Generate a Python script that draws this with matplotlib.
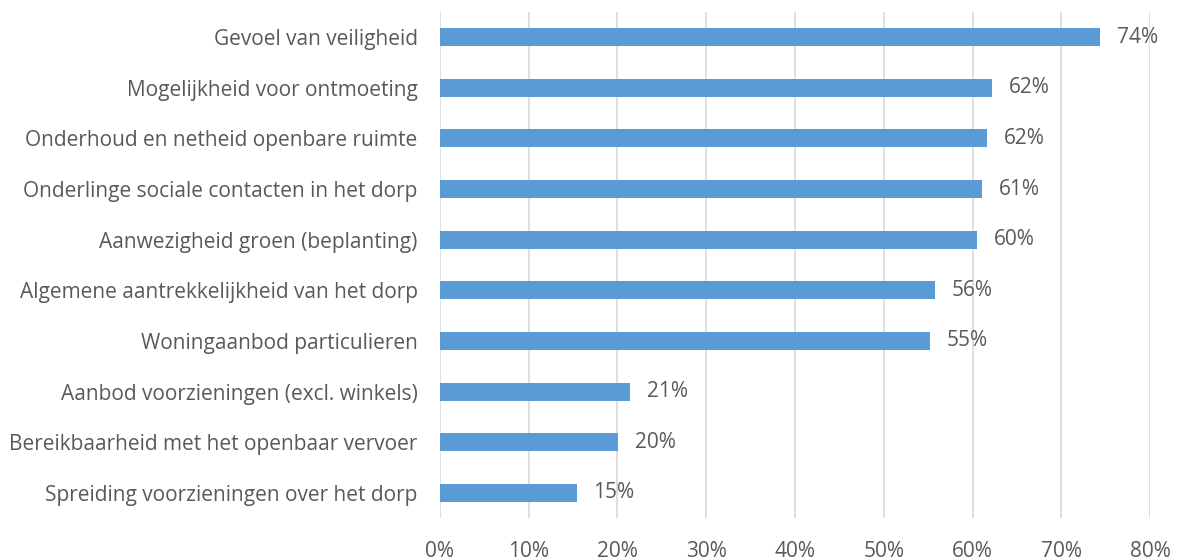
import matplotlib.pyplot as plt
from matplotlib.ticker import FuncFormatter

categories = [
    "Gevoel van veiligheid",
    "Mogelijkheid voor ontmoeting",
    "Onderhoud en netheid openbare ruimte",
    "Onderlinge sociale contacten in het dorp",
    "Aanwezigheid groen (beplanting)",
    "Algemene aantrekkelijkheid van het dorp",
    "Woningaanbod particulieren",
    "Aanbod voorzieningen (excl. winkels)",
    "Bereikbaarheid met het openbaar vervoer",
    "Spreiding voorzieningen over het dorp",
]
values = [74.4, 62.2, 61.6, 61.1, 60.5, 55.8, 55.2, 21.4, 20.1, 15.4]
xticks = [0, 10, 20, 30, 40, 50, 60, 70, 80]

text_col = "#595959"
plt.rcParams['font.family'] = ['Open Sans', 'DejaVu Sans']

fig = plt.figure(figsize=(11.77, 5.6), dpi=100)
ax = fig.add_axes([0.3738, 0.0745, 0.6033, 0.9045])

pos = list(range(len(categories)))[::-1]
ax.barh(pos, values, height=0.355, color="#5B9BD5", zorder=3)

for p, v in zip(pos, values):
    ax.annotate(f"{v:.0f}%", (v, p), xytext=(12, 0), textcoords="offset points",
                va="center", ha="left", fontsize=15, color=text_col)

ax.set_xlim(0, 80)
ax.set_ylim(-0.5, len(categories) - 0.5)
ax.set_xticks(xticks)
ax.xaxis.set_major_formatter(FuncFormatter(lambda x, _: f"{x:.0f}%"))
ax.set_yticks(pos)
ax.set_yticklabels(categories)
ax.tick_params(axis="both", length=0, labelsize=15, labelcolor=text_col)
ax.tick_params(axis="x", pad=16.5)
ax.tick_params(axis="y", pad=16)
ax.grid(axis="x", color="#D9D9D9", linewidth=1.2, zorder=0)
for s in ax.spines.values():
    s.set_visible(False)

fig.savefig("out.png", dpi=100)
